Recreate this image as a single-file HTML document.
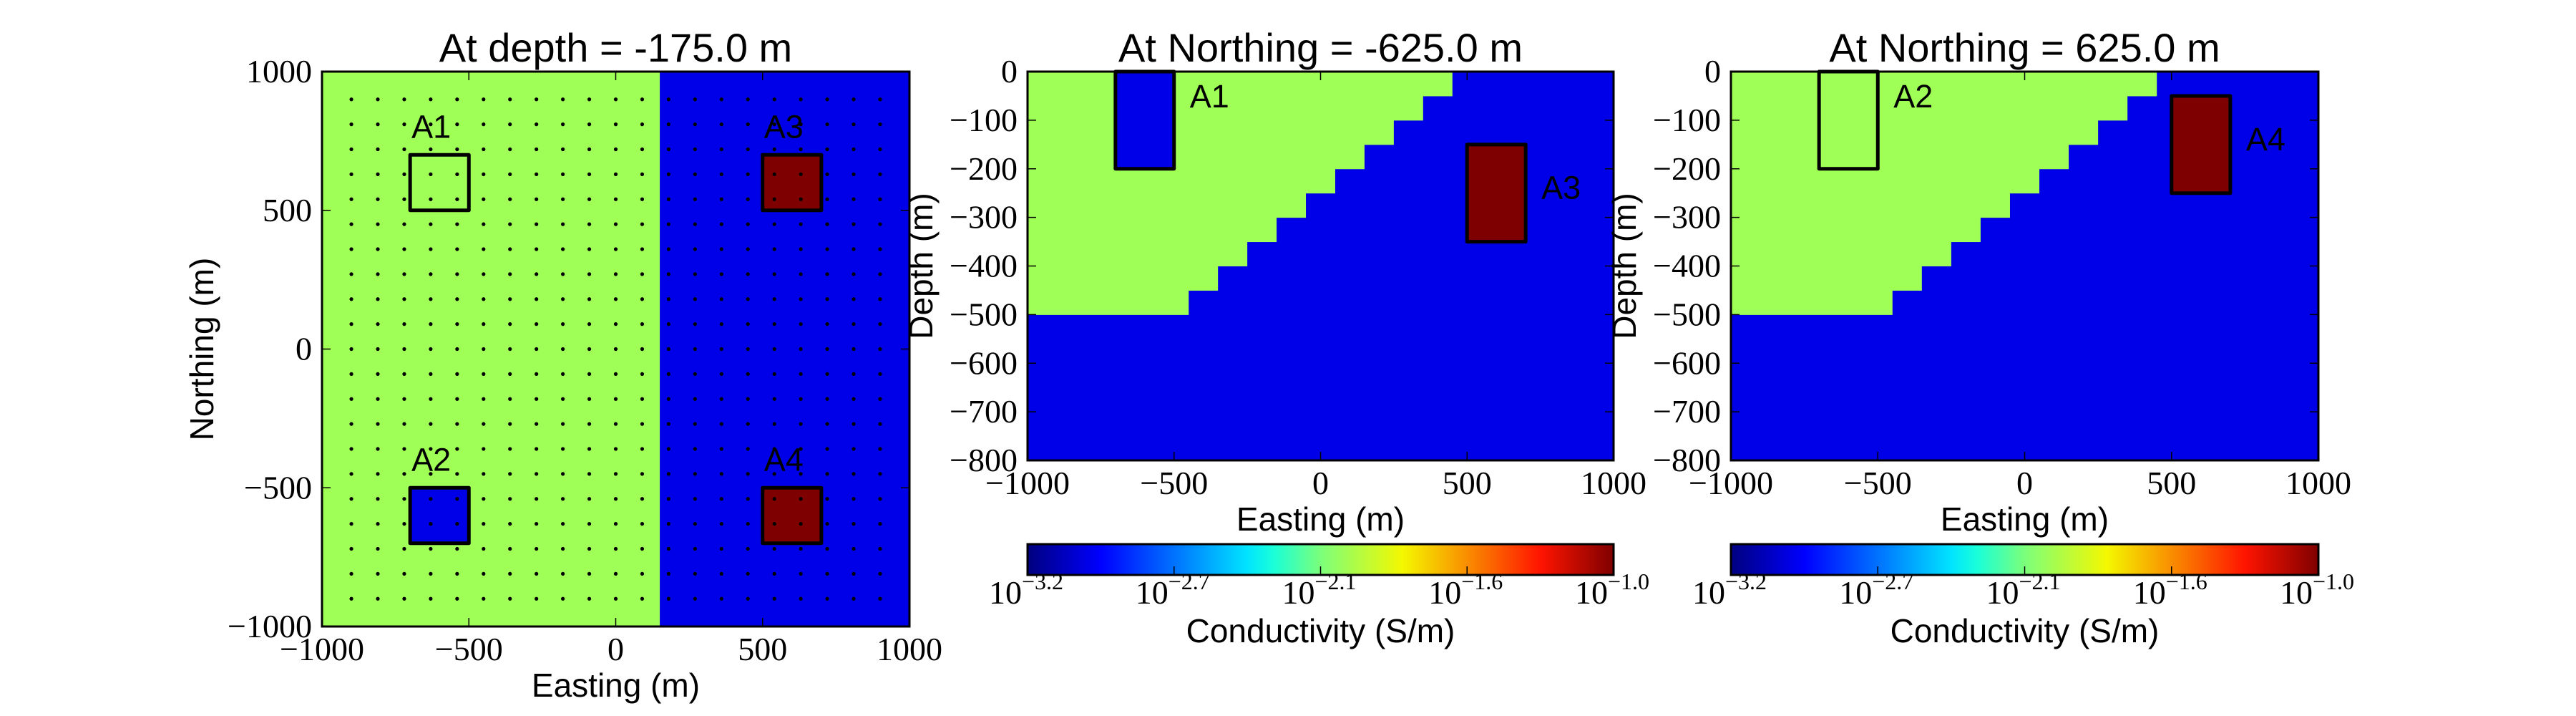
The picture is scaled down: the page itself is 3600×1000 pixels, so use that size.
<!DOCTYPE html>
<html><head><meta charset="utf-8"><style>
html,body{margin:0;padding:0;background:#fff;}
svg{display:block;}
text{fill:#000;}
</style></head><body>
<svg id="fig" width="3600" height="1000" viewBox="0 0 3600 1000" xmlns="http://www.w3.org/2000/svg">
<defs>
<linearGradient id="jet" x1="0" x2="1" y1="0" y2="0">
<stop offset="0" stop-color="#00007f"/>
<stop offset="0.125" stop-color="#0000ff"/>
<stop offset="0.375" stop-color="#00e4ff"/>
<stop offset="0.42" stop-color="#1affd8"/>
<stop offset="0.5" stop-color="#7bff7b"/>
<stop offset="0.64" stop-color="#f4f800"/>
<stop offset="0.875" stop-color="#ff1400"/>
<stop offset="1" stop-color="#7f0000"/>
</linearGradient>
</defs>
</svg>
<script>
// ---- data ----
const GREEN = '#a0ff56', BLUE = '#0000e8', RED = '#7f0000';
const planBoundaryEasting = 150;
const dotCoords = [-900,-810,-720,-630,-540,-450,-360,-270,-180,-90,0,90,180,270,360,450,540,630,720,810,900];
const planBoxNames = ['A1','A2','A3','A4'];
const planBoxX0 = [-700,-700,500,500];
const planBoxX1 = [-500,-500,700,700];
const planBoxY0 = [500,-700,500,-700];
const planBoxY1 = [700,-500,700,-500];
const planBoxFill = ['none',BLUE,RED,RED];
const stepTop = [0,-50,-100,-150,-200,-250,-300,-350,-400,-450];
const stepEdge = [450,350,250,150,50,-50,-150,-250,-350,-450];
const sec1Names = ['A1','A3'];
const sec1X0 = [-700,500], sec1X1 = [-500,700], sec1Z0 = [0,-150], sec1Z1 = [-200,-350];
const sec1Fill = [BLUE,RED];
const sec2Names = ['A2','A4'];
const sec2X0 = [-700,500], sec2X1 = [-500,700], sec2Z0 = [0,-50], sec2Z1 = [-200,-250];
const sec2Fill = ['none',RED];
const eastTicks = [-1000,-500,0,500,1000];
const northTicks = [-1000,-500,0,500,1000];
const depthTicks = [0,-100,-200,-300,-400,-500,-600,-700,-800];
const cbExp = ['−3.2','−2.7','−2.1','−1.6','−1.0'];

const SERIF='"Liberation Serif", serif', SANS='"Liberation Sans", sans-serif';
const NS='http://www.w3.org/2000/svg';
const svg=document.getElementById('fig');
function el(tag,attrs,parent){const e=document.createElementNS(NS,tag);for(const k in attrs)e.setAttribute(k,attrs[k]);(parent||svg).appendChild(e);return e;}
function txt(str,attrs,parent){const t=el('text',attrs,parent);t.textContent=str;return t;}
function fmt(v){return v<0?'−'+Math.abs(v):String(v);}

function axes(name,L,R,T,B,xmin,xmax,ymin,ymax){
  const g=el('g',{});
  
  
  return {g,sx:v=>L+(v-xmin)/(xmax-xmin)*(R-L),sy:v=>B-(v-ymin)/(ymax-ymin)*(B-T),L,R,T,B};
}
function frameAndTicks(a,xt,yt,title,xlabel,ylabel,ylabX){
  const g=a.g;
  xt.forEach(v=>{const x=a.sx(v);
    el('line',{x1:x,x2:x,y1:a.B,y2:a.B-12,stroke:'#000','stroke-width':1.5},g);
    el('line',{x1:x,x2:x,y1:a.T,y2:a.T+12,stroke:'#000','stroke-width':1.5},g);
    const t=txt(fmt(v),{x:x,y:a.B+47,'text-anchor':'middle','font-size':46,'font-family':SERIF},g);
    
    
  });
  yt.forEach(v=>{const y=a.sy(v);
    el('line',{x1:a.L,x2:a.L+12,y1:y,y2:y,stroke:'#000','stroke-width':1.5},g);
    el('line',{x1:a.R,x2:a.R-12,y1:y,y2:y,stroke:'#000','stroke-width':1.5},g);
    const t=txt(fmt(v),{x:a.L-14,y:y+15,'text-anchor':'end','font-size':46,'font-family':SERIF},g);
    
    
  });
  const f=el('rect',{x:a.L,y:a.T,width:a.R-a.L,height:a.B-a.T,fill:'none',stroke:'#000','stroke-width':3},g);
  
  
  const ti=txt(title,{x:(a.L+a.R)/2,y:86,'text-anchor':'middle','font-size':56,'font-family':SANS},g);
  
  
  const xl=txt(xlabel,{x:(a.L+a.R)/2,y:a.B+98,'text-anchor':'middle','font-size':46,'font-family':SANS},g);
  
  
  const yc=(a.T+a.B)/2;
  const yl=txt(ylabel,{x:ylabX,y:yc,'text-anchor':'middle','font-size':46,'font-family':SANS,transform:`rotate(-90 ${ylabX} ${yc})`},g);
  
  
}
function boxes(a,names,x0,x1,y0,y1,fills,labelFn){
  names.forEach((n,i)=>{
    const X=a.sx(x0[i]),X2=a.sx(x1[i]),Y=a.sy(y1[i]),Y2=a.sy(y0[i]);
    const r=el('rect',{x:X,y:Math.min(Y,Y2),width:X2-X,height:Math.abs(Y2-Y),fill:fills[i],stroke:'#000','stroke-width':5,'stroke-linejoin':'round'},a.g);
    
    
    const p=labelFn(i);
    const t=txt(n,{x:p[0],y:p[1],'font-size':45,'font-family':SANS},a.g);
    
    
  });
}
function section(a,names,x0,x1,z0,z1,fills){
  const g=a.g;
  el('rect',{x:a.L,y:a.T,width:a.R-a.L,height:a.B-a.T,fill:BLUE},g);
  stepTop.forEach((z,i)=>{
    const r=el('rect',{x:a.sx(-1000),y:a.sy(z),width:a.sx(stepEdge[i])-a.sx(-1000),height:a.sy(z-50)-a.sy(z)+0.5,fill:GREEN},g);
    
    
  });
  boxes(a,names,x0,x1,z0,z1,fills,i=>[a.sx(x1[i])+22,a.sy((z0[i]+z1[i])/2)+8-(z0[i]===0?26:0)]);
}
function colorbar(a){
  const g=el('g',{});
  
  
  const T=760,B=803;
  el('rect',{x:a.L,y:T,width:a.R-a.L,height:B-T,fill:'url(#jet)',stroke:'#000','stroke-width':3},g);
  cbExp.forEach((e,i)=>{
    const x=a.L+i/(cbExp.length-1)*(a.R-a.L);
    if(i>0&&i<cbExp.length-1) el('line',{x1:x,x2:x,y1:B,y2:B-12,stroke:'#000','stroke-width':1.5},g);
    const t=el('text',{x:x-2,y:843,'text-anchor':'middle','font-size':46,'font-family':SERIF},g);
    
    
    const a1=document.createElementNS(NS,'tspan');a1.textContent='10';t.appendChild(a1);
    const a2=document.createElementNS(NS,'tspan');a2.textContent=e;a2.setAttribute('dy','-20');a2.setAttribute('font-size','32');t.appendChild(a2);
  });
  const l=txt('Conductivity (S/m)',{x:(a.L+a.R)/2,y:897,'text-anchor':'middle','font-size':46,'font-family':SANS},g);
  
  
}

// ---- panel 1: plan view ----
const p1=axes('plan-view-panel',450,1271,100,875,-1000,1000,-1000,1000);
el('rect',{x:p1.L,y:p1.T,width:p1.R-p1.L,height:p1.B-p1.T,fill:BLUE},p1.g);
const gr=el('rect',{x:p1.L,y:p1.T,width:p1.sx(planBoundaryEasting)-p1.L,height:p1.B-p1.T,fill:GREEN},p1.g);


boxes(p1,planBoxNames,planBoxX0,planBoxX1,planBoxY0,planBoxY1,planBoxFill,i=>[p1.sx(planBoxX0[i])+2,p1.sy(planBoxY1[i])-24]);
dotCoords.forEach(x=>dotCoords.forEach(y=>{
  const d=el('circle',{cx:p1.sx(x),cy:p1.sy(y),r:2.6,fill:'#000'},p1.g);
  
  
}));
frameAndTicks(p1,eastTicks,northTicks,'At depth = -175.0 m','Easting (m)','Northing (m)',298);

// ---- panel 2 ----
const p2=axes('section-northing-minus-625',1436,2255,100,643,-1000,1000,-800,0);
section(p2,sec1Names,sec1X0,sec1X1,sec1Z0,sec1Z1,sec1Fill);
frameAndTicks(p2,eastTicks,depthTicks,'At Northing = -625.0 m','Easting (m)','Depth (m)',1303);
colorbar(p2);

// ---- panel 3 ----
const p3=axes('section-northing-625',2419,3240,100,643,-1000,1000,-800,0);
section(p3,sec2Names,sec2X0,sec2X1,sec2Z0,sec2Z1,sec2Fill);
frameAndTicks(p3,eastTicks,depthTicks,'At Northing = 625.0 m','Easting (m)','Depth (m)',2286);
colorbar(p3);
</script>
</body></html>
